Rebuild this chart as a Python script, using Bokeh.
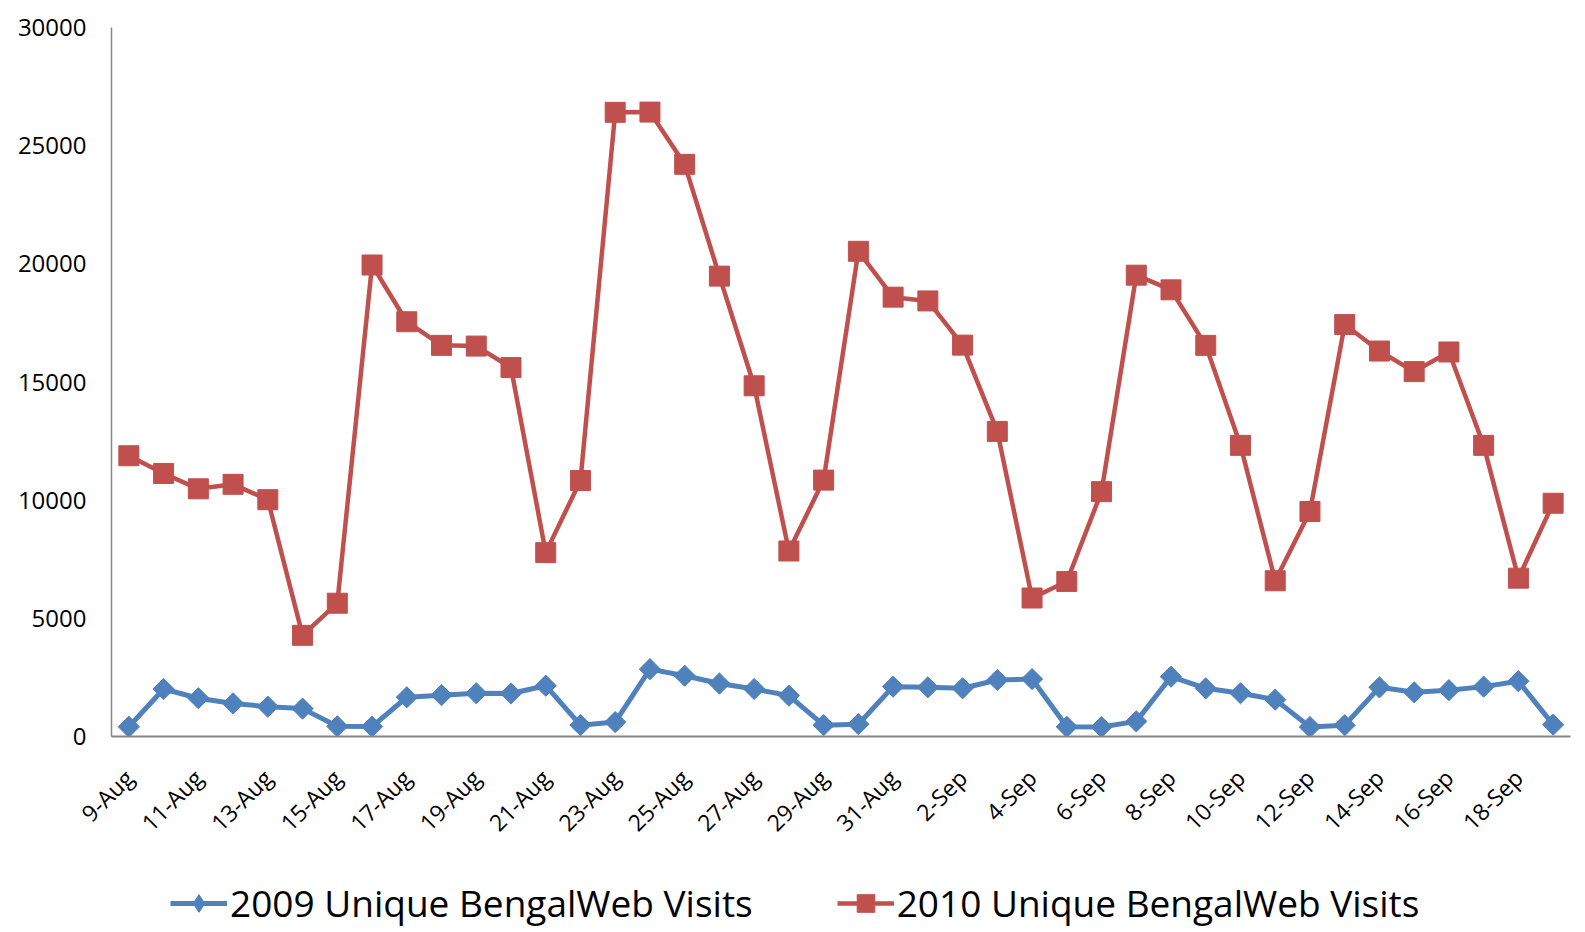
import math
from bokeh.plotting import figure
from bokeh.layouts import column
from bokeh.models import Range1d, FixedTicker, Legend, LegendItem, ColumnDataSource
from bokeh.embed import file_html
from bokeh.resources import INLINE

dates = ["9-Aug", "10-Aug", "11-Aug", "12-Aug", "13-Aug", "14-Aug", "15-Aug", "16-Aug",
         "17-Aug", "18-Aug", "19-Aug", "20-Aug", "21-Aug", "22-Aug", "23-Aug", "24-Aug",
         "25-Aug", "26-Aug", "27-Aug", "28-Aug", "29-Aug", "30-Aug", "31-Aug", "1-Sep",
         "2-Sep", "3-Sep", "4-Sep", "5-Sep", "6-Sep", "7-Sep", "8-Sep", "9-Sep",
         "10-Sep", "11-Sep", "12-Sep", "13-Sep", "14-Sep", "15-Sep", "16-Sep", "17-Sep",
         "18-Sep", "19-Sep"]

visits_2009 = [410, 2010, 1620, 1400, 1260, 1180, 430, 420, 1660, 1750, 1830, 1820,
               2150, 480, 610, 2850, 2570, 2240, 2010, 1730, 480, 520, 2110, 2080,
               2040, 2390, 2430, 410, 400, 640, 2530, 2040, 1830, 1560, 400, 480,
               2080, 1870, 1960, 2110, 2340, 500]

visits_2010 = [11880, 11130, 10480, 10670, 10020, 4280, 5640, 19950, 17550, 16550, 16520, 15610,
               7780, 10830, 26410, 26420, 24210, 19480, 14840, 7850, 10850, 20530, 18590, 18430,
               16560, 12910, 5860, 6560, 10360, 19520, 18900, 16550, 12320, 6590, 9520, 17430,
               16310, 15440, 16270, 12320, 6700, 9870]

y_ticks = [0, 5000, 10000, 15000, 20000, 25000, 30000]

series_names = ["2009 Unique BengalWeb Visits", "2010 Unique BengalWeb Visits"]
blue = "#4F81BD"
red = "#C0504D"
font = "Open Sans"

x = list(range(len(dates)))
src = ColumnDataSource(dict(x=x, v09=visits_2009, v10=visits_2010))


def add_series(fig, legend_strip=False):
    b_line = fig.line("x", "v09", source=src, line_color=blue, line_width=5)
    if legend_strip:
        b_mark = fig.scatter("x", "v09", source=src, marker="diamond", size=22,
                             fill_color=blue, line_color=blue)
    else:
        b_mark = fig.scatter("x", "v09", source=src, marker="square", angle=math.pi / 4,
                             size=15, fill_color=blue, line_color=blue)
    r_line = fig.line("x", "v10", source=src, line_color=red, line_width=4.5)
    r_mark = fig.scatter("x", "v10", source=src, marker="square", size=20,
                         fill_color=red, line_color=red)
    return b_line, b_mark, r_line, r_mark


p = figure(width=1585, height=852, output_backend="svg", toolbar_location=None,
           x_range=Range1d(-0.5, len(dates) - 0.5), y_range=Range1d(0, 30000),
           min_border_left=111, min_border_right=15, min_border_top=27, min_border_bottom=110)
p.outline_line_color = None
p.xgrid.grid_line_color = None
p.ygrid.grid_line_color = None
add_series(p)

p.yaxis.ticker = FixedTicker(ticks=y_ticks)
p.yaxis.major_label_overrides = {t: str(t) for t in y_ticks}
p.yaxis.major_tick_line_color = None
p.yaxis.minor_tick_line_color = None
p.yaxis.axis_line_color = "#868686"
p.yaxis.axis_line_width = 1.5
p.yaxis.major_label_text_font = font
p.yaxis.major_label_text_font_size = "24px"
p.yaxis.major_label_text_color = "#000000"
p.yaxis.major_label_standoff = 19

even = [i for i in x if i % 2 == 0]
p.xaxis.ticker = FixedTicker(ticks=even)
p.xaxis.major_label_overrides = {i: dates[i] for i in even}
p.xaxis.major_label_orientation = math.pi / 4
p.xaxis.major_tick_line_color = None
p.xaxis.minor_tick_line_color = None
p.xaxis.axis_line_color = "#868686"
p.xaxis.axis_line_width = 2
p.xaxis.major_label_text_font = font
p.xaxis.major_label_text_font_size = "23px"
p.xaxis.major_label_text_color = "#000000"
p.xaxis.major_label_standoff = 31

# legend strip below the chart (same series, ranges chosen so nothing is drawn in it)
q = figure(width=1585, height=80, output_backend="svg", toolbar_location=None,
           x_range=Range1d(100, 101), y_range=Range1d(-2, -1),
           min_border_left=0, min_border_right=0, min_border_top=0, min_border_bottom=0,
           x_axis_location=None, y_axis_location=None)
q.outline_line_color = None
q.xgrid.grid_line_color = None
q.ygrid.grid_line_color = None
ql1, qm1, ql2, qm2 = add_series(q, legend_strip=True)

legend = Legend(items=[LegendItem(label=series_names[0], renderers=[ql1, qm1]),
                       LegendItem(label=series_names[1], renderers=[ql2, qm2])],
                orientation="horizontal", location=(59, 4),
                label_text_font=font, label_text_font_size="37px", label_text_color="#000000",
                glyph_width=57, glyph_height=44, label_standoff=3, spacing=84,
                padding=0, margin=0, border_line_color=None, background_fill_alpha=0)
q.add_layout(legend, "center")

layout = column(p, q, spacing=0)
open("out.html", "w").write(file_html(layout, INLINE))
